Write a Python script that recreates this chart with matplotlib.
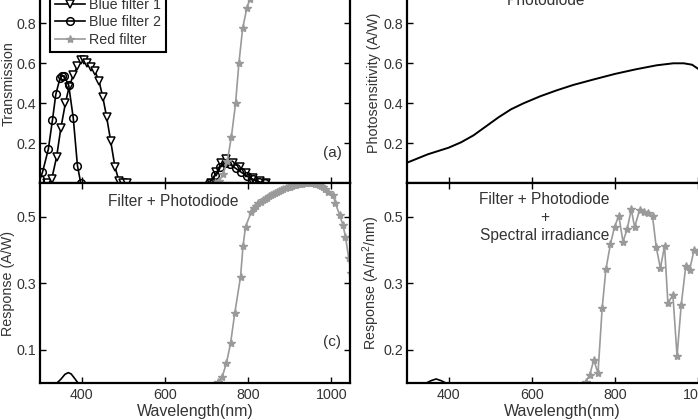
import matplotlib
matplotlib.use("Agg")
import matplotlib.pyplot as plt

plt.rcParams['font.family'] = ['Liberation Sans', 'DejaVu Sans']
plt.rcParams['mathtext.fontset'] = 'custom'
plt.rcParams['mathtext.rm'] = 'Liberation Sans'

TXT = "#333333"
GRAY = "#9a9a9a"

# (a) filter transmission
blue1_wl = [318, 328, 340, 350, 361, 370, 380, 390, 398, 406, 414, 423, 432, 442, 451, 460, 470, 480, 490, 500, 510,
            712, 724, 736, 748, 764, 780, 796, 812, 828, 844]
blue1_t = [0.0, 0.02, 0.133, 0.275, 0.40, 0.483, 0.54, 0.585, 0.617, 0.615, 0.60, 0.58, 0.56, 0.51, 0.43, 0.333, 0.21,
           0.083, 0.01, 0.0, 0.0,
           0.0, 0.058, 0.10, 0.12, 0.103, 0.083, 0.05, 0.025, 0.01, 0.0]
blue2_wl = [300, 306, 320, 330, 338, 348, 352, 358, 369, 380, 390, 398,
            706, 720, 732, 744, 756, 770, 784, 798, 812, 826, 840]
blue2_t = [0.02, 0.055, 0.17, 0.317, 0.445, 0.525, 0.535, 0.537, 0.49, 0.325, 0.088, 0.0,
           0.0, 0.04, 0.08, 0.10, 0.095, 0.075, 0.055, 0.035, 0.02, 0.008, 0.0]
red_wl = [720, 730, 740, 750, 760, 770, 778, 787, 797, 804, 815, 830, 850, 900, 950, 1000, 1050]
red_t = [0.0, 0.01, 0.045, 0.11, 0.233, 0.40, 0.60, 0.775, 0.875, 0.92, 0.965, 0.99, 1.0, 1.0, 1.0, 1.0, 1.0]

# (b) photodiode sensitivity
pd_wl = [300, 350, 400, 430, 460, 490, 520, 550, 580, 620, 660, 700, 750, 800, 850, 900, 940, 965, 985, 1000,
         1015, 1030, 1045]
pd_s = [0.103, 0.145, 0.178, 0.205, 0.24, 0.285, 0.33, 0.37, 0.40, 0.435, 0.465, 0.492, 0.52, 0.547, 0.57, 0.59,
        0.60, 0.60, 0.593, 0.572, 0.53, 0.47, 0.39]

# (c) filter x photodiode
blue_resp_wl = [340, 350, 360, 368, 375, 383, 392]
blue_resp = [0.0, 0.012, 0.027, 0.032, 0.028, 0.015, 0.0]
red_resp_wl = [728, 738, 748, 758, 768, 782, 788, 794, 808, 815, 820, 825, 830, 835, 840, 845, 850, 855, 860, 865,
               870, 875, 880, 885, 890, 895, 900, 905, 910, 915, 920, 925, 930, 935, 940, 945, 950, 955, 960,
               965, 970, 975, 980, 985, 992, 1004, 1010, 1020, 1028, 1034, 1042, 1048]
red_resp = [0.005, 0.02, 0.06, 0.12, 0.21, 0.32, 0.413, 0.47, 0.515, 0.525, 0.532, 0.54, 0.545, 0.549, 0.553,
            0.557, 0.561, 0.565, 0.568, 0.571, 0.574, 0.577, 0.58, 0.583, 0.585, 0.588, 0.59, 0.592, 0.594,
            0.596, 0.597, 0.598, 0.599, 0.6, 0.6, 0.6, 0.6, 0.6, 0.599, 0.597, 0.595, 0.592, 0.588, 0.583,
            0.575, 0.565, 0.54, 0.505, 0.475, 0.44, 0.375, 0.33]

# (d) filter x photodiode x spectral irradiance (axis units, relabelled ticks)
blue_irr_wl = [345, 358, 370, 382, 395]
blue_irr = [0.0, 0.008, 0.013, 0.008, 0.0]
red_irr_wl = [730, 739, 749, 759, 769, 778, 789, 799, 809, 819, 829, 839, 847, 859, 869, 879, 890, 899, 909, 919,
              927, 939, 949, 959, 970, 979, 990, 1000, 1012, 1024, 1036, 1048]
red_irr = [0.005, 0.025, 0.07, 0.03, 0.225, 0.342, 0.418, 0.47, 0.503, 0.425, 0.462, 0.522, 0.468, 0.52, 0.515,
           0.51, 0.502, 0.408, 0.345, 0.412, 0.24, 0.265, 0.082, 0.235, 0.352, 0.34, 0.40, 0.395, 0.37, 0.34,
           0.30, 0.26]
d_ticks = [0.1, 0.3, 0.5]
d_tick_labels = ["0.2", "0.3", "0.5"]

W, H = 698, 420
fig = plt.figure(figsize=(W / 100, H / 100), dpi=100)


def make_ax(x0, y_bottom):
    ax = fig.add_axes([x0 / W, (H - y_bottom) / H, 310 / W, 200 / H])
    ax.set_xlim(300, 1045)
    ax.set_xticks([400, 600, 800, 1000])
    for s in ax.spines.values():
        s.set_linewidth(1.6)
    ax.tick_params(direction="in", top=True, right=True, length=4, width=1,
                   labelsize=10.3, labelcolor=TXT, pad=3.5)
    ax.tick_params(axis="y", pad=3)
    return ax


ax_a = make_ax(40, 183.3)
ax_b = make_ax(407, 183.3)
ax_c = make_ax(40, 383.3)
ax_d = make_ax(407, 383.3)

# (a)
ax_a.plot(blue1_wl, blue1_t, color="black", lw=1.2, marker="v", ms=6, mfc="white", mew=1.1,
          label="Blue filter 1")
ax_a.plot(blue2_wl, blue2_t, color="black", lw=1.2, marker="o", ms=5.5, mfc="none", mew=1.1,
          label="Blue filter 2")
ax_a.plot(red_wl, red_t, color=GRAY, lw=1.2, marker="*", ms=6, label="Red filter")
ax_a.set_ylim(0, 1)
ax_a.set_yticks([0.2, 0.4, 0.6, 0.8])
ax_a.tick_params(labelbottom=False)
ax_a.set_ylabel("Transmission", fontsize=10.3, color=TXT)
ax_a.yaxis.set_label_coords(-0.08, 0.5)
ax_a.text(0.912, 0.15, "(a)", transform=ax_a.transAxes, fontsize=11, color=TXT, va="center")
leg = ax_a.legend(loc="upper left", bbox_to_anchor=(0.032, 0.95), borderaxespad=0, fontsize=10.3,
                  numpoints=1, handlelength=2.1, handletextpad=0.3, labelspacing=0.22,
                  fancybox=False, framealpha=1, edgecolor="black", borderpad=0.35)
leg.get_frame().set_linewidth(1.5)
for t in leg.get_texts():
    t.set_color(TXT)

# (b)
ax_b.plot(pd_wl, pd_s, color="black", lw=1.4)
ax_b.set_ylim(0, 1)
ax_b.set_yticks([0.2, 0.4, 0.6, 0.8])
ax_b.tick_params(labelbottom=False)
ax_b.set_ylabel("Photosensitivity (A/W)", fontsize=10.3, color=TXT)
ax_b.yaxis.set_label_coords(-0.083, 0.5)
ax_b.text(0.45, 0.89, "Photodiode", transform=ax_b.transAxes, fontsize=11.2, color=TXT, ha="center",
          va="baseline")
ax_b.text(0.935, 0.2, "(b)", transform=ax_b.transAxes, fontsize=11, color=TXT, va="center")

# (c)
ax_c.plot(blue_resp_wl, blue_resp, color="black", lw=1.2)
ax_c.plot(red_resp_wl, red_resp, color=GRAY, lw=1.2, marker="*", ms=6)
ax_c.set_ylim(0, 0.6)
ax_c.set_yticks([0.1, 0.3, 0.5])
ax_c.set_ylabel("Response (A/W)", fontsize=10.3, color=TXT)
ax_c.yaxis.set_label_coords(-0.08, 0.5)
ax_c.set_xlabel("Wavelength(nm)", fontsize=11.5, color=TXT, labelpad=1.5)
ax_c.text(0.43, 0.887, "Filter + Photodiode", transform=ax_c.transAxes, fontsize=11.2, color=TXT,
          ha="center", va="baseline")
ax_c.text(0.912, 0.205, "(c)", transform=ax_c.transAxes, fontsize=11, color=TXT, va="center")

# (d)
ax_d.plot(blue_irr_wl, blue_irr, color="black", lw=1.2)
ax_d.plot(red_irr_wl, red_irr, color=GRAY, lw=1.2, marker="*", ms=6)
ax_d.set_ylim(0, 0.6)
ax_d.set_yticks(d_ticks)
ax_d.set_yticklabels(d_tick_labels)
ax_d.set_ylabel("Response (A/m$^2$/nm)", fontsize=10.3, color=TXT)
ax_d.yaxis.set_label_coords(-0.08, 0.5)
ax_d.set_xlabel("Wavelength(nm)", fontsize=11.5, color=TXT, labelpad=1.5)
ax_d.text(0.443, 0.83, "Filter + Photodiode\n+\nSpectral irradiance", transform=ax_d.transAxes,
          fontsize=11.2, color=TXT, ha="center", va="center", multialignment="center", linespacing=1.25)
ax_d.text(0.935, 0.2, "(d)", transform=ax_d.transAxes, fontsize=11, color=TXT, va="center")

fig.savefig("out.png", dpi=100)
